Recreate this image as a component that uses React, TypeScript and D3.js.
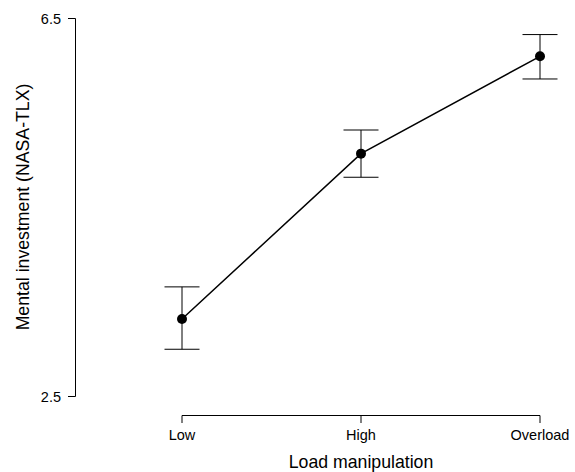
import React from "react";
import * as d3 from "d3";

const categories = ["Low", "High", "Overload"];
const means = [3.32, 5.07, 6.10];
const upper = [3.66, 5.32, 6.33];
const lower = [3.0, 4.82, 5.86];
const yTicks = [2.5, 6.5];

export default function App() {
  const W = 575, H = 472;
  const x = d3.scalePoint<string>().domain(categories).range([182, 540]);
  const y = d3.scaleLinear().domain([2.5, 6.5]).range([396.5, 18.5]);
  const line = d3.line<number>().x((_, i) => x(categories[i])!).y((d) => y(d));
  const font = "Liberation Sans, Arial, sans-serif";
  const capW = 17.5;
  return (
    <svg width={W} height={H} style={{ position: "absolute", left: 0, top: 0, background: "#fff" }} fontFamily={font}>
      {/* y axis */}
      <line x1={75.5} x2={75.5} y1={y(6.5)} y2={y(2.5)} stroke="#000" strokeWidth={1} />
      {yTicks.map((t) => (
        <g key={t}>
          <line x1={68} x2={75.5} y1={y(t)} y2={y(t)} stroke="#000" strokeWidth={1} />
          <text x={61} y={y(t)} dy="0.35em" textAnchor="end" fontSize={14.5}>{String(t)}</text>
        </g>
      ))}
      <text transform={`translate(29,207) rotate(-90)`} textAnchor="middle" fontSize={17.7}>Mental investment (NASA-TLX)</text>
      {/* x axis */}
      <line x1={x("Low")} x2={x("Overload")} y1={415.5} y2={415.5} stroke="#000" strokeWidth={1} />
      {categories.map((c) => (
        <g key={c}>
          <line x1={x(c)} x2={x(c)} y1={415.5} y2={423} stroke="#000" strokeWidth={1} />
          <text x={x(c)} y={440} textAnchor="middle" fontSize={14.5}>{c}</text>
        </g>
      ))}
      <text x={361} y={468} textAnchor="middle" fontSize={17.7}>Load manipulation</text>
      {/* error bars */}
      {categories.map((c, i) => (
        <g key={c} stroke="#000" strokeWidth={1}>
          <line x1={x(c)} x2={x(c)} y1={y(upper[i])} y2={y(lower[i])} />
          <line x1={x(c)! - capW} x2={x(c)! + capW} y1={y(upper[i])} y2={y(upper[i])} />
          <line x1={x(c)! - capW} x2={x(c)! + capW} y1={y(lower[i])} y2={y(lower[i])} />
        </g>
      ))}
      <path d={line(means)!} fill="none" stroke="#000" strokeWidth={1.5} />
      {means.map((m, i) => (
        <circle key={i} cx={x(categories[i])} cy={y(m)} r={5} fill="#000" />
      ))}
    </svg>
  );
}
